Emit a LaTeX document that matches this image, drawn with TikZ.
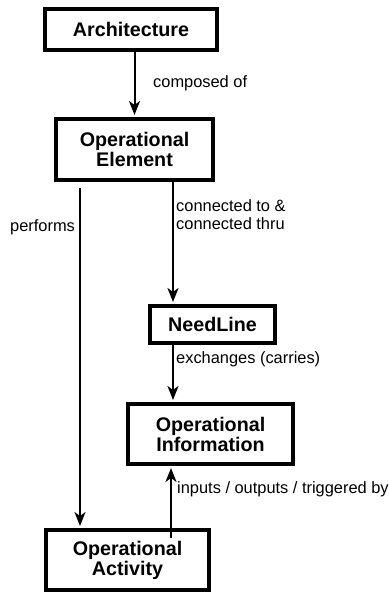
\documentclass[tikz,border=0pt]{standalone}
\usepackage{fontspec}
\setmainfont{Liberation Sans}
\usetikzlibrary{arrows.meta}
\begin{document}
\begin{tikzpicture}[x=1pt,y=-1pt,
  box/.style={draw, line width=4pt, fill=white, inner sep=0pt, align=center,
    font=\fontsize{19.7}{20}\selectfont\bfseries},
  lbl/.style={inner sep=0pt, align=left, font=\fontsize{16.4}{18}\selectfont},
  conn/.style={line width=2pt, shorten >=2pt, -{Stealth[length=14pt,width=11pt,inset=4pt]}}]
\useasboundingbox[fill=white] (0,0) rectangle (388,594);
\node[box, minimum width=172pt, minimum height=41pt] (arch) at (131,29.5) {Architecture};
\node[box, minimum width=157pt, minimum height=61pt] (elem) at (134.5,149.5) {Operational\\Element};
\node[box, minimum width=125pt, minimum height=37pt] (need) at (212.5,324.5) {NeedLine};
\node[box, minimum width=165pt, minimum height=60pt] (info) at (210.5,434) {Operational\\Information};
\node[box, minimum width=163pt, minimum height=60pt] (act) at (127.5,560) {Operational\\Activity};
\coordinate (xl) at (80,0);
\coordinate (xr) at (173,0);
\coordinate (ist) at (171,538);
\draw[conn] (arch.south -| elem.north) -- (elem.north);
\draw[conn, shorten <=6pt] (elem.south -| xl) -- (act.north -| xl);
\draw[conn] (elem.south -| xr) -- (need.north -| xr);
\draw[conn] (need.south -| xr) -- (info.north -| xr);
\draw[conn] (ist) -- (info.south -| ist);
\node[lbl, anchor=base west] (lcomp) at (153,87) {composed of};
\node[lbl, anchor=north west] (lconn) at (176,199.5) {connected to \&\\connected thru};
\node[lbl, anchor=base west] (lperf) at (10,231) {performs};
\node[lbl, anchor=base west] (lexch) at (176,363) {exchanges (carries)};
\node[lbl, anchor=base west] (linp) at (177,493) {inputs / outputs / triggered by};
\end{tikzpicture}
\end{document}
